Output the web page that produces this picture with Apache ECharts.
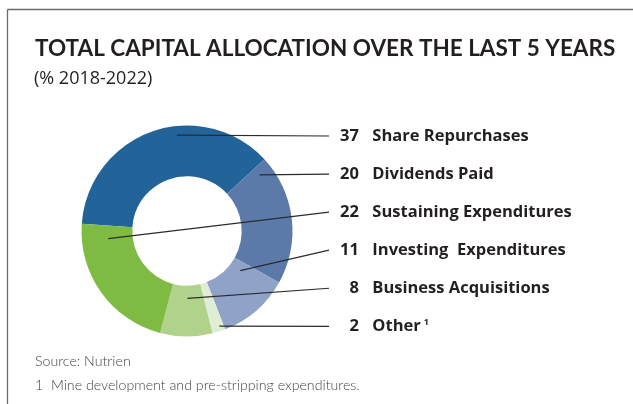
<!DOCTYPE html>
<html>
<head>
<meta charset="utf-8">
<script src="https://cdn.jsdelivr.net/npm/echarts@6/dist/echarts.min.js"></script>
<style>
  html, body { margin: 0; padding: 0; background: #ffffff; }
  #chart { width: 633px; height: 404px; }
</style>
</head>
<body>
<div id="chart"></div>
<script>
// ---- data ----
const categories = ['Share Repurchases', 'Dividends Paid', 'Investing  Expenditures', 'Other', 'Business Acquisitions', 'Sustaining Expenditures'];
const values = [37, 20, 11, 2, 8, 22];
const footnoteMarks = ['', '', '', '1', '', ''];
const labelRank = [0, 1, 3, 5, 4, 2];   // order of the label list on the right

const titleText = 'TOTAL CAPITAL ALLOCATION OVER THE LAST 5 YEARS';
const subtitleText = '(% 2018-2022)';
const sourceText = 'Source: Nutrien';
const footnoteText = '1  Mine development and pre-stripping expenditures.';

// ---- style ----
const colors = ['#22639a', '#5b7aaa', '#8ea3c7', '#dfedd4', '#b0d28a', '#7fbb43'];
const anchorAlong = [0.60, 0.07, 0.19, 0.33, 0.47, 0.88];
const anchorDepth = [0.82, 0.73, 0.23, 0.90, 0.25, 0.48];
const LABEL_FONT = '"Open Sans"';
const LABEL_SIZE = 16.5;
const CX = 187, CY = 231, R0 = 54.7, R1 = 105.5, START = 176;
const LINE_END_X = 329, LABEL_X = 340, LABEL_TOP = 136, LABEL_GAP = 38.06;

const total = values.reduce((a, b) => a + b, 0);
const cumBefore = values.map((v, i) => values.slice(0, i).reduce((a, b) => a + b, 0));
const pieData = categories.map((name, i) => ({ name: name, value: values[i] }));

const chart = echarts.init(document.getElementById('chart'), null, { renderer: 'canvas' });

const option = {
  animation: false,
  backgroundColor: '#ffffff',
  color: colors,
  graphic: [
    { type: 'line', shape: { x1: 7.5, y1: 9.5, x2: 633, y2: 9.5 }, style: { stroke: '#6a6a6a', lineWidth: 1.3 }, silent: true },
    { type: 'line', shape: { x1: 7.5, y1: 9.5, x2: 7.5, y2: 404 }, style: { stroke: '#6a6a6a', lineWidth: 1.3 }, silent: true },
    { type: 'text', x: 35, y: 49, style: { text: titleText, font: 'bold 22.5px Lato', fill: '#231f20', verticalAlign: 'middle' } },
    { type: 'text', x: 34, y: 79, style: { text: subtitleText, font: '18px "Open Sans"', fill: '#231f20', verticalAlign: 'middle' } },
    { type: 'text', x: 35, y: 361, style: { text: sourceText, font: '300 14.2px Lato', fill: '#444444', verticalAlign: 'middle' } },
    { type: 'text', x: 35, y: 385, style: { text: footnoteText, font: '300 14.2px Lato', fill: '#444444', verticalAlign: 'middle' } }
  ],
  series: [
    {
      // coloured ring
      type: 'pie',
      z: 2,
      center: [CX, CY],
      radius: [R0, R1],
      startAngle: START,
      clockwise: true,
      silent: true,
      itemStyle: { borderWidth: 0 },
      label: { show: false },
      labelLine: { show: false },
      data: pieData
    },
    {
      // same ring geometry, transparent, carrying labels and leader lines above the colours
      type: 'pie',
      z: 3,
      center: [CX, CY],
      radius: [R0, R1],
      startAngle: START,
      clockwise: true,
      avoidLabelOverlap: false,
      silent: true,
      itemStyle: { color: 'rgba(0,0,0,0)', borderWidth: 0 },
      data: pieData,
      label: {
        show: true,
        position: 'outside',
        color: '#231f20',
        formatter: function (p) {
          const i = p.dataIndex;
          const pad = values[i] < 10 ? '{p| }' : '';
          const mark = footnoteMarks[i] ? '{s|' + footnoteMarks[i] + '}' : '';
          return pad + '{n|' + values[i] + '}{g| }{t|' + categories[i] + '}' + mark;
        },
        rich: {
          p: { width: 9.4, fontSize: LABEL_SIZE, fontFamily: LABEL_FONT },
          n: { fontSize: LABEL_SIZE, fontWeight: 'bold', fontFamily: LABEL_FONT, color: '#231f20' },
          g: { width: 13.5, fontSize: LABEL_SIZE, fontFamily: LABEL_FONT },
          t: { fontSize: LABEL_SIZE, fontWeight: 'bold', fontFamily: LABEL_FONT, color: '#231f20' },
          s: { fontSize: 9, fontWeight: 'bold', fontFamily: LABEL_FONT, color: '#231f20', verticalAlign: 'top', padding: [0, 0, 8, 3] }
        }
      },
      labelLine: { show: true, lineStyle: { color: '#2b2b2b', width: 1.2 } },
      labelLayout: function (params) {
        const i = params.dataIndex;
        const span = 360 * values[i] / total;
        const a0 = START - 360 * cumBefore[i] / total;
        const ang = (a0 - anchorAlong[i] * span) * Math.PI / 180;
        const r = R0 + anchorDepth[i] * (R1 - R0);
        const ax = CX + r * Math.cos(ang);
        const ay = CY - r * Math.sin(ang);
        const ly = LABEL_TOP + labelRank[i] * LABEL_GAP;
        return {
          x: LABEL_X,
          y: ly,
          align: 'left',
          verticalAlign: 'middle',
          labelLinePoints: [[ax, ay], [LINE_END_X, ly], [LINE_END_X, ly]]
        };
      }
    }
  ]
};
chart.setOption(option);
</script>
</body>
</html>
